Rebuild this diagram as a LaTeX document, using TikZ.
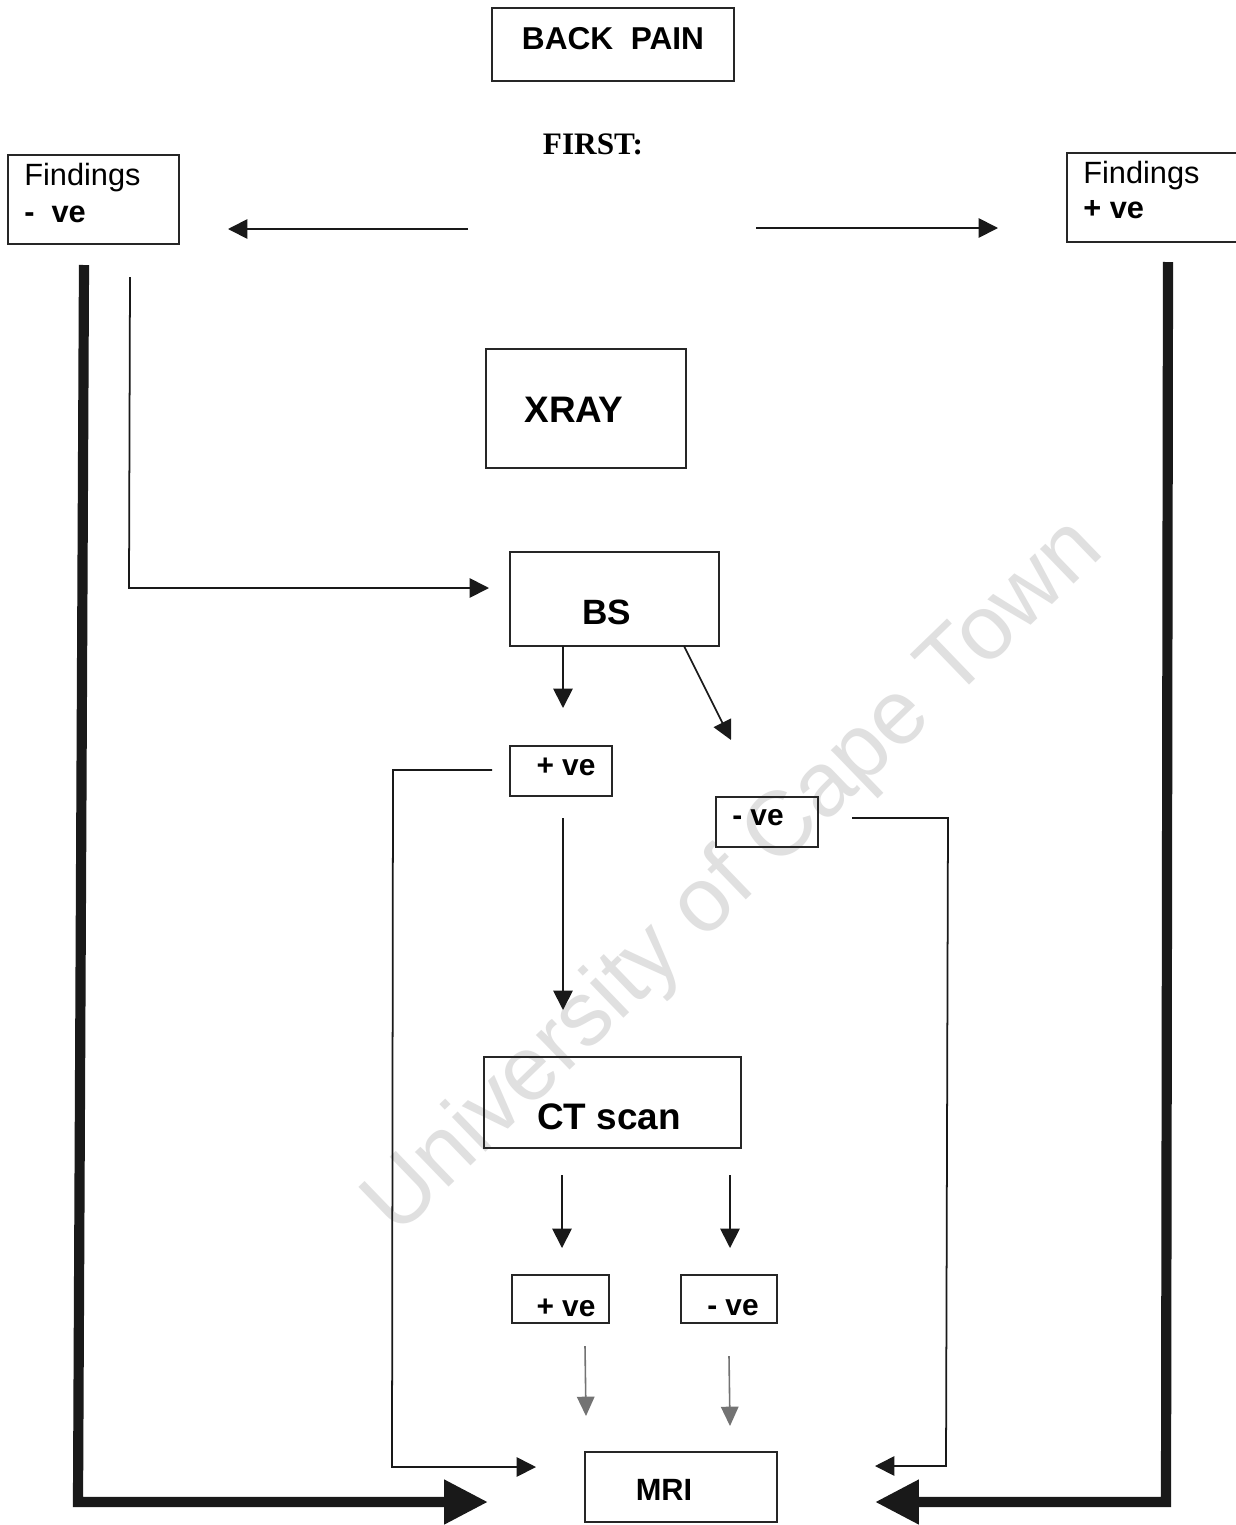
\documentclass[tikz,border=0pt]{standalone}
\usepackage{fontspec}
\setmainfont{Liberation Sans}
\newfontfamily\timesf{Liberation Serif}
\usetikzlibrary{arrows.meta}
\begin{document}
\begin{tikzpicture}[x=0.02cm,y=-0.02cm,
  box/.style={draw=black!85,line width=0.9pt,inner sep=0pt},
  lbl/.style={inner sep=0pt,font=\bfseries\fontsize{17}{20}\selectfont},
  big/.style={inner sep=0pt,font=\bfseries\fontsize{21}{24}\selectfont},
  thinarr/.style={draw=black!90,line width=1pt,-{Triangle[length=11pt,width=11pt]}},
  greyarr/.style={draw=black!65,line width=0.9pt,-{Triangle[length=11pt,width=10pt]},color=black!55},
  thickarr/.style={draw=black!90,line width=5.8pt,line join=miter,-{Triangle[length=25pt,width=24pt]}},
  plain/.style={draw=black!90,line width=1pt}]
\useasboundingbox (0,0) rectangle (1236,1525);
\fill[white] (0,0) rectangle (1236,1525);
% watermark
\node[rotate=44,inner sep=0pt,text=black!12,font=\fontsize{52}{60}\selectfont] (wm) at (735,878) {University of Cape Town};
% boxes
\node[box,minimum width=4.84cm,minimum height=1.46cm] (bp) at (613,44.5) {};
\node[inner sep=0pt,font=\bfseries\fontsize{18}{20}\selectfont] (bpt) at (613,39) {BACK~~PAIN};
\node[inner sep=0pt,font=\timesf\bfseries\fontsize{17.8}{20}\selectfont] (first) at (593,144) {FIRST:};
\node[box,minimum width=3.42cm,minimum height=1.78cm] (fneg) at (93.5,199.5) {};
\node[anchor=base west,inner sep=0pt,font=\fontsize{17.5}{20}\selectfont] (fnegt1) at (24,185) {Findings};
\node[anchor=base west,inner sep=0pt,font=\bfseries\fontsize{17.5}{20}\selectfont] (fnegt2) at (24,222) {-~~ve};
\node[box,minimum width=3.46cm,minimum height=1.78cm] (fpos) at (1153.5,197.5) {};
\node[anchor=base west,inner sep=0pt,font=\fontsize{17.5}{20}\selectfont] (fpost1) at (1083,183) {Findings};
\node[anchor=base west,inner sep=0pt,font=\bfseries\fontsize{17.5}{20}\selectfont] (fpost2) at (1083,218) {+ ve};
\node[box,minimum width=4cm,minimum height=2.38cm] (xray) at (586,408.5) {};
\node[big] (xrayt) at (574,410) {XRAY};
\node[box,minimum width=4.18cm,minimum height=1.88cm] (bs) at (614.5,599) {};
\node[big,font=\bfseries\fontsize{20}{24}\selectfont] (bst) at (607,612) {BS};
\node[box,minimum width=2.04cm,minimum height=1cm] (p1) at (561,771) {};
\node[lbl] (p1t) at (566,767) {+ ve};
\node[box,minimum width=2.04cm,minimum height=1cm] (n1) at (767,822) {};
\node[lbl] (n1t) at (758,818) {- ve};
\node[box,minimum width=5.14cm,minimum height=1.82cm] (ct) at (612.5,1102.5) {};
\node[big] (ctt) at (609,1117) {CT scan};
\node[box,minimum width=1.94cm,minimum height=0.96cm] (p2) at (560.5,1299) {};
\node[lbl] (p2t) at (566,1308) {+ ve};
\node[box,minimum width=1.92cm,minimum height=0.96cm] (n2) at (729,1299) {};
\node[lbl] (n2t) at (733,1308) {- ve};
\node[box,minimum width=3.84cm,minimum height=1.4cm] (mri) at (681,1487) {};
\node[inner sep=0pt,font=\bfseries\fontsize{17.5}{20}\selectfont] (mrit) at (664,1490) {MRI};
% coordinates
\coordinate (fl0) at (468,229); \coordinate (fl1) at (228,229);
\coordinate (fr0) at (756,228); \coordinate (fr1) at (998,228);
\coordinate (tl0) at (84,265); \coordinate (tl1) at (78,1502); \coordinate (tl2) at (488,1502);
\coordinate (tr0) at (1168,262); \coordinate (tr1) at (1166,1502); \coordinate (tr2) at (875,1502);
\coordinate (sl0) at (130,277); \coordinate (sl1) at (129,588); \coordinate (sl2) at (489,588);
\coordinate (b0) at (563,646); \coordinate (b1) at (563,708);
\coordinate (d0) at (684,646); \coordinate (d1) at (731,740);
\coordinate (pl0) at (492,770); \coordinate (pl1) at (393,770); \coordinate (pl2) at (392,1467); \coordinate (pl3) at (536,1467);
\coordinate (nr0) at (852,818); \coordinate (nr1) at (948,818); \coordinate (nr2) at (946,1466); \coordinate (nr3) at (875,1466);
\coordinate (pd0) at (563,818); \coordinate (pd1) at (563,1010);
\coordinate (c10) at (562,1175); \coordinate (c11) at (562,1248);
\coordinate (c20) at (730,1175); \coordinate (c21) at (730,1248);
\coordinate (g10) at (585,1346); \coordinate (g11) at (586,1416);
\coordinate (g20) at (729,1356); \coordinate (g21) at (730,1426);
% connectors
\draw[thinarr] (fl0) -- (fl1);
\draw[thinarr] (fr0) -- (fr1);
\draw[thickarr] (tl0) -- (tl1) -- (tl2);
\draw[thickarr] (tr0) -- (tr1) -- (tr2);
\draw[thinarr] (sl0) -- (sl1) -- (sl2);
\draw[thinarr] (b0) -- (b1);
\draw[thinarr] (d0) -- (d1);
\draw[thinarr] (pl0) -- (pl1) -- (pl2) -- (pl3);
\draw[thinarr] (nr0) -- (nr1) -- (nr2) -- (nr3);
\draw[thinarr] (pd0) -- (pd1);
\draw[thinarr] (c10) -- (c11);
\draw[thinarr] (c20) -- (c21);
\draw[greyarr] (g10) -- (g11);
\draw[greyarr] (g20) -- (g21);
\end{tikzpicture}
\end{document}
